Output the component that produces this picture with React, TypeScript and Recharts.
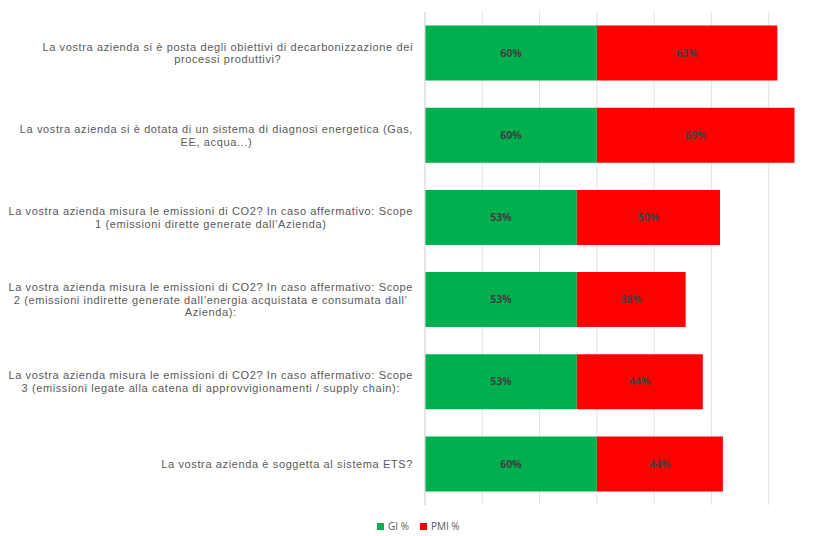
import { BarChart, Bar, XAxis, YAxis, CartesianGrid, Legend, LabelList } from 'recharts';

const questions = [
  'La vostra azienda si è posta degli obiettivi di decarbonizzazione dei\nprocessi produttivi?',
  'La vostra azienda si è dotata di un sistema di diagnosi energetica (Gas,\nEE, acqua...)',
  'La vostra azienda misura le emissioni di CO2? In caso affermativo: Scope\n1 (emissioni dirette generate dall’Azienda)',
  'La vostra azienda misura le emissioni di CO2? In caso affermativo: Scope\n2 (emissioni indirette generate dall’energia acquistata e consumata dall’\nAzienda):',
  'La vostra azienda misura le emissioni di CO2? In caso affermativo: Scope\n3 (emissioni legate alla catena di approvvigionamenti / supply chain):',
  'La vostra azienda è soggetta al sistema ETS?',
];
const giValues = [60, 60, 53, 53, 53, 60];
const pmiValues = [63, 69, 50, 38, 44, 44];
const xTicks = [0, 20, 40, 60, 80, 100, 120, 140];

const data = questions.map((q, i) => ({ q, gi: giValues[i], pmi: pmiValues[i] }));

const GREEN = '#00B050';
const RED = '#FF0000';
const FONT = '"Open Sans", sans-serif';
const LABEL_FONT = '"Liberation Sans", Arial, sans-serif';
const LABEL_SIZE = 11;
const LABEL_SPACING = 0.62;

let ctx: CanvasRenderingContext2D | null = null;
function measure(s: string) {
  if (!ctx) ctx = document.createElement('canvas').getContext('2d');
  if (!ctx) return s.length * 5.5;
  ctx.font = `${LABEL_SIZE}px "Liberation Sans"`;
  return ctx.measureText(s).width + s.length * LABEL_SPACING;
}

function QuestionTick({ x, y, payload }: any) {
  const lines = String(payload.value).split('\n');
  const lh = 12.8;
  const startY = y - ((lines.length - 1) * lh) / 2;
  // lines centred on each other, block pushed against the axis
  const widest = Math.max(...lines.map(measure));
  const centerX = x - 4 - widest / 2;
  return (
    <text fontSize={LABEL_SIZE} fontFamily={LABEL_FONT} fill="#595959" letterSpacing={LABEL_SPACING} textAnchor="middle" dominantBaseline="central">
      {lines.map((l, i) => (
        <tspan key={i} x={centerX} y={startY + i * lh}>
          {l}
        </tspan>
      ))}
    </text>
  );
}

function NoTick() {
  return <g />;
}

function LegendContent() {
  const items = [
    { name: 'GI %', color: GREEN },
    { name: 'PMI %', color: RED },
  ];
  return (
    <div style={{ height: 29, display: 'flex', alignItems: 'flex-end', paddingLeft: 377, fontFamily: FONT, fontSize: 10, color: '#595959' }}>
      {items.map((it) => (
        <span key={it.name} style={{ display: 'inline-flex', alignItems: 'center', marginRight: 11, height: 12, marginBottom: 2 }}>
          <span style={{ width: 7, height: 7, background: it.color, display: 'inline-block', marginRight: 4 }} />
          {it.name}
        </span>
      ))}
    </div>
  );
}

export default function App() {
  return (
    <div style={{ position: 'absolute', left: 0, top: 0, width: 821, height: 536, overflow: 'hidden', background: '#fff' }}>
      <BarChart
        width={831}
        height={536}
        data={data}
        layout="vertical"
        barCategoryGap="16.5%"
        margin={{ top: 12, right: 5, bottom: 2, left: 0 }}
      >
        <CartesianGrid horizontal={false} stroke="#e3e3e3" />
        <XAxis type="number" domain={[0, 140]} ticks={xTicks} axisLine={false} tickLine={false} tick={<NoTick />} height={0} />
        <YAxis
          type="category"
          dataKey="q"
          width={425}
          axisLine={{ stroke: '#d9d9d9' }}
          tickLine={false}
          tick={<QuestionTick />}
          interval={0}
        />
        <Legend verticalAlign="bottom" content={<LegendContent />} />
        <Bar dataKey="gi" stackId="a" fill={GREEN} name="GI %" isAnimationActive={false}>
          <LabelList dataKey="gi" position="center" formatter={(v: any) => `${v}%`} fill="#404040" fontSize={10.5} fontWeight="bold" fontFamily={FONT} />
        </Bar>
        <Bar dataKey="pmi" stackId="a" fill={RED} name="PMI %" isAnimationActive={false}>
          <LabelList dataKey="pmi" position="center" formatter={(v: any) => `${v}%`} fill="#404040" fontSize={10.5} fontWeight="bold" fontFamily={FONT} />
        </Bar>
      </BarChart>
    </div>
  );
}
